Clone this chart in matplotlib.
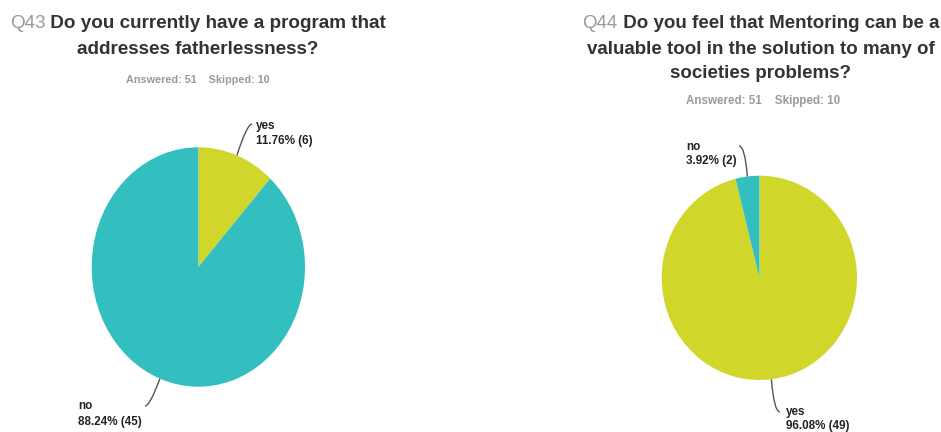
import numpy as np
import matplotlib
matplotlib.use('Agg')
from matplotlib import pyplot as plt
from matplotlib.path import Path
from matplotlib.patches import PathPatch

# survey answers for the two questions
q43_labels = ['yes', 'no']
q43_counts = [6, 45]
q44_labels = ['yes', 'no']
q44_counts = [49, 2]
answered, skipped = 51, 10

teal = '#33BEC0'
lime = '#D0D62A'
dark = '#333333'
grey = '#9A9A9A'
line_col = '#555555'

plt.rcParams['font.family'] = ['Liberation Sans', 'DejaVu Sans']

W, H = 941, 432
fig = plt.figure(figsize=(W / 100, H / 100), dpi=100)

# overlay axes in pixel units (y down) for titles, labels and leader lines
ov = fig.add_axes([0, 0, 1, 1], zorder=5)
ov.set_xlim(0, W)
ov.set_ylim(H, 0)
ov.axis('off')


def pie_axes(x0, y0, x1, y1):
    ax = fig.add_axes([x0 / W, (H - y1) / H, (x1 - x0) / W, (y1 - y0) / H])
    return ax


def draw_pie(ax, counts, colors):
    wedges, _ = ax.pie(counts, colors=colors, startangle=90, counterclock=False,
                       radius=1, wedgeprops=dict(linewidth=0))
    ax.set_aspect('auto')
    ax.set_xlim(-1, 1)
    ax.set_ylim(-1, 1)
    ax.axis('off')
    return wedges


def anchor(ax, wedge):
    mid = np.deg2rad((wedge.theta1 + wedge.theta2) / 2)
    disp = ax.transData.transform((np.cos(mid), np.sin(mid)))
    return ov.transData.inverted().transform(disp)


def leader(ax, wedge, end, ctrl):
    # quadratic curve from the slice edge, hooking towards the label
    start = anchor(ax, wedge)
    path = Path([start, ctrl, end], [Path.MOVETO, Path.CURVE3, Path.CURVE3])
    ov.add_patch(PathPatch(path, fc='none', ec=line_col, lw=1))


def slice_label(x, y, name, n, total, size, gap):
    ov.text(x, y, name, fontsize=size, fontweight='bold', color='#222222',
            ha='left', va='center')
    ov.text(x, y + gap, '%.2f%% (%d)' % (100 * n / total, n), fontsize=size,
            fontweight='bold', color='#222222', ha='left', va='center')


def title(cx, y_lines, qnum, lines, size):
    # first line: grey question number followed by the bold question text
    q = ov.text(0, y_lines[0], qnum, fontsize=size, color=grey,
                ha='left', va='center')
    t = ov.text(0, y_lines[0], ' ' + lines[0], fontsize=size, fontweight='bold',
                color=dark, ha='left', va='center')
    fig.canvas.draw()
    inv = ov.transData.inverted()
    qb = q.get_window_extent()
    tb = t.get_window_extent()
    total_w = inv.transform((qb.width + tb.width, 0))[0] - inv.transform((0, 0))[0]
    qw = inv.transform((qb.width, 0))[0] - inv.transform((0, 0))[0]
    x0 = cx - total_w / 2
    q.set_x(x0)
    t.set_x(x0 + qw)
    for y, s in zip(y_lines[1:], lines[1:]):
        ov.text(cx, y, s, fontsize=size, fontweight='bold', color=dark,
                ha='center', va='center')


def answered_line(cx, y, size):
    ov.text(cx, y, 'Answered: %d    Skipped: %d' % (answered, skipped),
            fontsize=size, fontweight='bold', color=grey, ha='center', va='center')


# Q43
title(198, [23, 49], 'Q43', ['Do you currently have a program that',
                             'addresses fatherlessness?'], 13.6)
answered_line(198, 80, 7.8)
ax1 = pie_axes(91.7, 147.3, 305, 386.7)
w1 = draw_pie(ax1, q43_counts, [lime, teal])
leader(ax1, w1[0], (252, 124), (247, 124))
leader(ax1, w1[1], (145, 406), (150, 406))
slice_label(256, 126, q43_labels[0], q43_counts[0], sum(q43_counts), 8.4, 15)
slice_label(78, 406, q43_labels[1], q43_counts[1], sum(q43_counts), 8.4, 15.5)

# Q44
title(761, [23, 49, 74], 'Q44', ['Do you feel that Mentoring can be a',
                                 'valuable tool in the solution to many of',
                                 'societies problems?'], 13.5)
answered_line(763, 101, 8.4)
ax2 = pie_axes(661.7, 175.7, 857, 380)
w2 = draw_pie(ax2, q44_counts, [lime, teal])
leader(ax2, w2[1], (739, 146), (745, 146))
leader(ax2, w2[0], (780, 412), (774, 412))
slice_label(686, 147, q44_labels[1], q44_counts[1], sum(q44_counts), 8.4, 14)
slice_label(786, 412, q44_labels[0], q44_counts[0], sum(q44_counts), 8.4, 14)

fig.savefig('out.png', dpi=100, facecolor='white')
